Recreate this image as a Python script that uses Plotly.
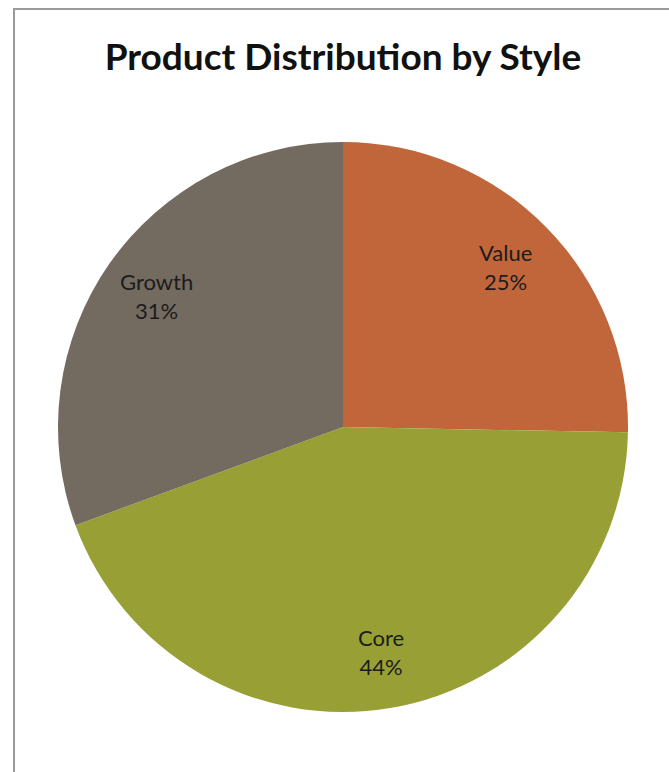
import math
import plotly.graph_objects as go

categories = ["Value", "Core", "Growth"]
values = [25.3, 44.1, 30.6]
colors = ["#C1663B", "#98A035", "#736A60"]
title_text = "Product Distribution by Style"

W, H = 669, 772
cx, cy, R = 343, 427, 285

fig = go.Figure()
fig.add_trace(go.Pie(
    labels=categories, values=values, sort=False, direction="clockwise",
    rotation=0, marker=dict(colors=colors, line=dict(width=0)),
    textinfo="none", hoverinfo="label+percent", showlegend=False,
    domain=dict(x=[(cx - R) / W, (cx + R) / W], y=[1 - (cy + R) / H, 1 - (cy - R) / H]),
))

total = sum(values)
cum = 0
annotations = []
for lab, v in zip(categories, values):
    mid = (cum + v / 2) / total
    cum += v
    ang = 2 * math.pi * mid
    r = 0.80 * R
    px = cx + r * math.sin(ang)
    py = cy - r * math.cos(ang)
    annotations.append(dict(
        x=px / W, y=1 - py / H, xref="paper", yref="paper",
        xanchor="center", yanchor="middle",
        text=f"{lab}<br>{round(v / total * 100)}%", showarrow=False,
        font=dict(family="Lato, Open Sans, sans-serif", size=22, color="#1c1c1c"),
        align="center",
    ))

fig.update_layout(
    width=W, height=H, margin=dict(l=0, r=0, t=0, b=0),
    paper_bgcolor="white", plot_bgcolor="white",
    title=dict(text=f"<b>{title_text}</b>", x=343 / W, xanchor="center",
               y=1 - 57 / H, yanchor="middle",
               font=dict(family="Lato, Open Sans, sans-serif", size=37, color="#111111")),
    annotations=annotations,
    shapes=[dict(type="rect", xref="paper", yref="paper",
                 x0=14 / W, x1=1.05, y0=-0.05, y1=1 - 9 / H,
                 line=dict(color="#9a9a9a", width=2), fillcolor="rgba(0,0,0,0)", layer="below")],
)

fig.write_html("out.html")
